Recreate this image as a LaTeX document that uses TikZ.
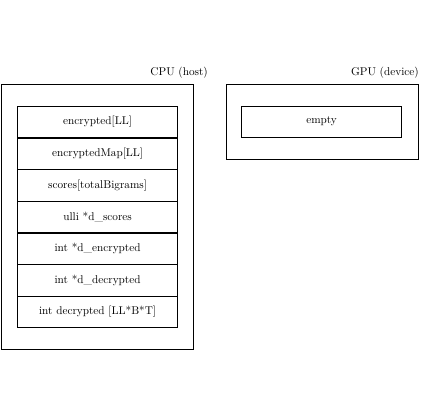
\documentclass[tikz,border=0pt]{standalone}
\usepackage{amsmath, amssymb, tikz}

\begin{document}
\begin{tikzpicture}[
        membox/.style={draw, minimum width=6cm},
        varbox/.style={draw, minimum width=5cm, minimum height=0.976cm}
    ]
        \useasboundingbox (0,0) rectangle (13.125,13.125);

        \node[membox, minimum height=8.265cm] (cpu) at (3.05,6.35) {};
        \node[membox, minimum height=2.33cm] (gpu) at (10.06,9.32) {};

        \node[anchor=base east] (cpulabel) at (6.62,10.78) {CPU (host)};
        \node[anchor=base east] (gpulabel) at (13.21,10.78) {GPU (device)};

        \node[varbox] (enc) at (3.05,9.315) {encrypted[LL]};
        \node[varbox] (encmap) at (3.05,8.325) {encryptedMap[LL]};
        \node[varbox] (scores) at (3.05,7.335) {scores[totalBigrams]};
        \node[varbox] (dscores) at (3.05,6.345) {ulli *d\_scores};
        \node[varbox] (denc) at (3.05,5.355) {int *d\_encrypted};
        \node[varbox] (ddec) at (3.05,4.365) {int *d\_decrypted};
        \node[varbox] (dec) at (3.05,3.375) {int decrypted [LL*B*T]};

        \node[varbox] (empty) at (10.05,9.327) {empty};
      \end{tikzpicture}
\end{document}
